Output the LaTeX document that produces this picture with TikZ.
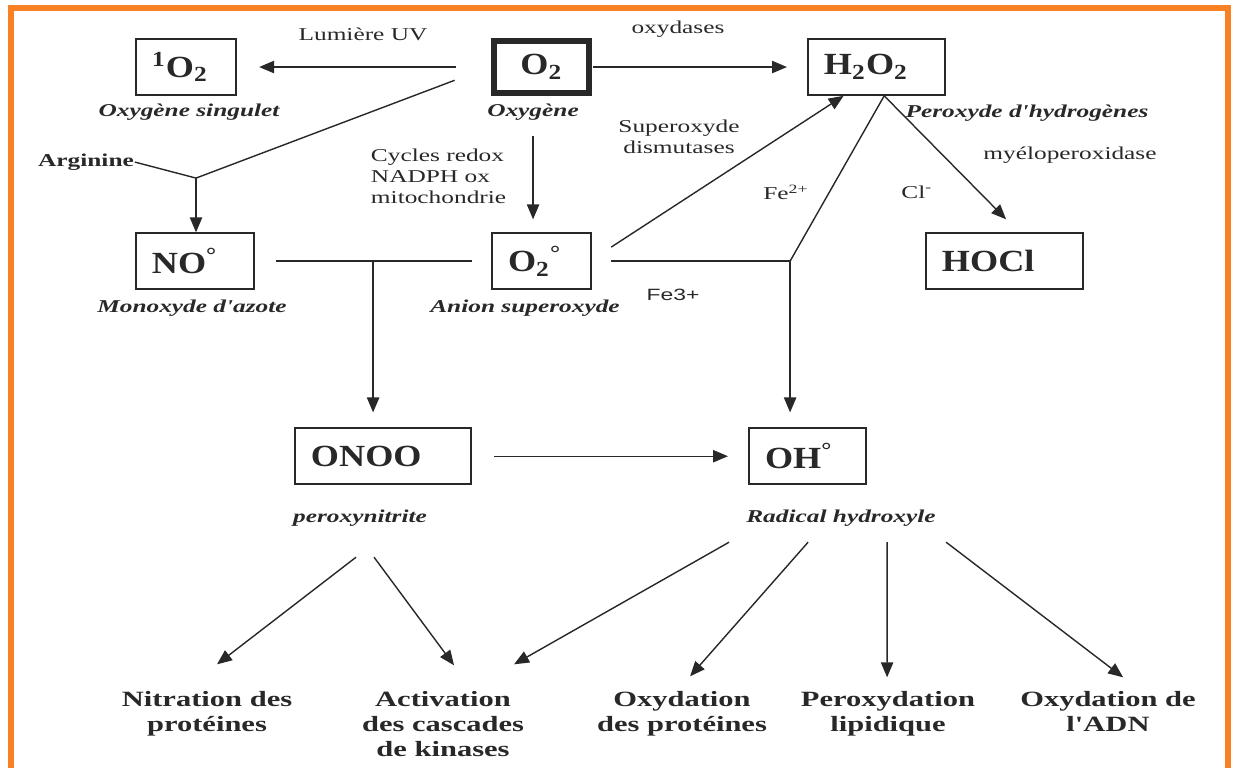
\documentclass[tikz,border=0pt]{standalone}
\usepackage{fontspec}
\setmainfont{Liberation Serif}[Ligatures=TeXOff]
\newfontfamily\labelsans{Liberation Sans}
\newfontfamily\formulafont{Liberation Serif}[FakeStretch=0.84]
\usetikzlibrary{arrows.meta}
\definecolor{frameorange}{RGB}{250,128,36}
\definecolor{inkgray}{RGB}{40,40,40}

\begin{document}
\begin{tikzpicture}[x=0.0142857cm,y=-0.02cm,xscale=1.4,transform shape,
    >={Triangle[length=8.5pt,width=7pt]},line width=0.8pt,inkgray,
    box/.style={draw,line width=0.9pt,minimum height=1.12cm,inner xsep=0.2286cm,
        inner ysep=0pt,align=left,font=\formulafont\fontsize{17.5}{19}\selectfont\bfseries},
    lbl/.style={inner sep=0pt,font=\fontsize{10.3}{11.9}\selectfont},
    species/.style={inner sep=0pt,font=\fontsize{10.3}{11.9}\selectfont\bfseries\itshape},
    effect/.style={inner sep=0pt,anchor=north,align=center,
        font=\fontsize{12.4}{14.2}\selectfont\bfseries}]
    \useasboundingbox (0,0) rectangle (1233,767);

    % Frame
    \draw[frameorange,line width=3.4pt] (11,790)--(11,8)--(1228,8)--(1228,790);

    % Species
    \node[box,text width=0.971cm] (b1O2) at (186,67) {\textsuperscript{1}O\textsubscript{2}};
    \node[box,line width=3.5pt,align=center,inner xsep=0pt,minimum width=1.357cm,
        minimum height=1.04cm] (bO2) at (541.5,67) {O\textsubscript{2}};
    \node[box,text width=1.5cm] (bH2O2) at (876.5,67) {H\textsubscript{2}O\textsubscript{2}};
    \node[box,text width=1.229cm] (bNO) at (195,261) {NO\textsuperscript{°}};
    \node[box,text width=0.957cm] (bO2r) at (541.5,261) {O\textsubscript{2}\textsuperscript{°}};
    \node[box,text width=1.786cm] (bHOCl) at (1004.5,261) {HOCl};
    \node[box,text width=2.057cm] (bONOO) at (383,456) {ONOO};
    \node[box,text width=1.214cm] (bOH) at (807.5,456) {OH\textsuperscript{°}};

    % Names
    \node[species] (lSing) at (189,112) {Oxygène singulet};
    \node[species] (lOxy) at (533,112) {Oxygène};
    \node[species] (lPer) at (1027,113) {Peroxyde d'hydrogènes};
    \node[species] (lNO) at (192,308) {Monoxyde d'azote};
    \node[species] (lSup) at (525,308) {Anion superoxyde};
    \node[species] (lPeroxy) at (360,518) {peroxynitrite};
    \node[species] (lRad) at (841,518) {Radical hydroxyle};

    % Reaction labels
    \node[lbl] (tUV) at (363,34) {Lumière UV};
    \node[lbl] (tOxyd) at (678,29) {oxydases};
    \node[lbl,font=\fontsize{10.3}{11.9}\selectfont\bfseries] (tArg) at (86,162) {Arginine};
    \node[lbl,align=left,anchor=west] (tCyc) at (370,176) {Cycles redox\\NADPH ox\\mitochondrie};
    \node[lbl,align=center] (tSod) at (679,137) {Superoxyde\\dismutases};
    \node[lbl] (tMyelo) at (1070,155) {myéloperoxidase};
    \node[lbl] (tFe2) at (786,192) {Fe\textsuperscript{2+}};
    \node[lbl] (tCl) at (917,192) {Cl\textsuperscript{-}};
    \node[lbl,font=\labelsans\fontsize{9.3}{11}\selectfont] (tFe3) at (673,295) {Fe3+};

    % Effects
    \node[effect] (eNit) at (207,690) {Nitration des\\protéines};
    \node[effect] (eAct) at (443,690) {Activation\\des cascades\\de kinases};
    \node[effect] (eOxP) at (682,690) {Oxydation\\des protéines};
    \node[effect] (ePer) at (888,690) {Peroxydation\\lipidique};
    \node[effect] (eADN) at (1108,690) {Oxydation de\\l'ADN};

    % From O2
    \draw[->,shorten <=0.68cm,shorten >=0.44cm] (bO2.west)--(b1O2.east);
    \draw[->,shorten >=0.4cm] (bO2.east)--(bH2O2.west);
    \coordinate (jArg) at (196,178);
    \draw (tArg.east)--(jArg);
    \draw[shorten >=0.75cm] (jArg)--(bO2.west);
    \draw[->] (jArg)--(jArg |- bNO.north);
    \draw[->,shorten <=0.3cm,shorten >=0.26cm] (lOxy.south)--(lOxy.south |- bO2r.north);

    % Superoxide
    \draw[->] ([shift={(19,-14)}]bO2r.east)--([shift={(-33,0)}]bH2O2.south);
    \draw[shorten <=0.42cm,shorten >=0.38cm] (bNO.east)--coordinate[pos=0.5] (jONOO) (bO2r.west);
    \draw[->,shorten >=0.3cm] (jONOO)--(jONOO |- bONOO.north);

    % H2O2
    \coordinate (jOH) at (790,261);
    \coordinate (hApex) at ([shift={(7.5,0)}]bH2O2.south);
    \draw[shorten <=0.38cm] (bO2r.east)--(jOH);
    \draw (hApex)--(jOH);
    \draw[->,shorten >=0.3cm] (jOH)--(jOH |- bOH.north);
    \draw[->] (hApex)--([shift={(1.5,-13)}]bHOCl.north);

    % ONOO to OH
    \draw[->,shorten <=0.44cm,shorten >=0.4cm] (bONOO.east)--(bOH.west);

    % Damages
    \draw[->] ([shift={(-4,30)}]lPeroxy.south)--([shift={(10,-26)}]eNit.north);
    \draw[->] ([shift={(14,30)}]lPeroxy.south)--([shift={(11,-25)}]eAct.north);
    \draw[->] ([shift={(-112,15)}]lRad.south)--([shift={(71,-26)}]eAct.north);
    \draw[->] ([shift={(-33,15)}]lRad.south)--([shift={(8,-14)}]eOxP.north);
    \draw[->] ([shift={(46,15)}]lRad.south)--([shift={(-1,-13)}]ePer.north);
    \draw[->] ([shift={(105,15)}]lRad.south)--([shift={(15,-13)}]eADN.north);
\end{tikzpicture}
\end{document}
